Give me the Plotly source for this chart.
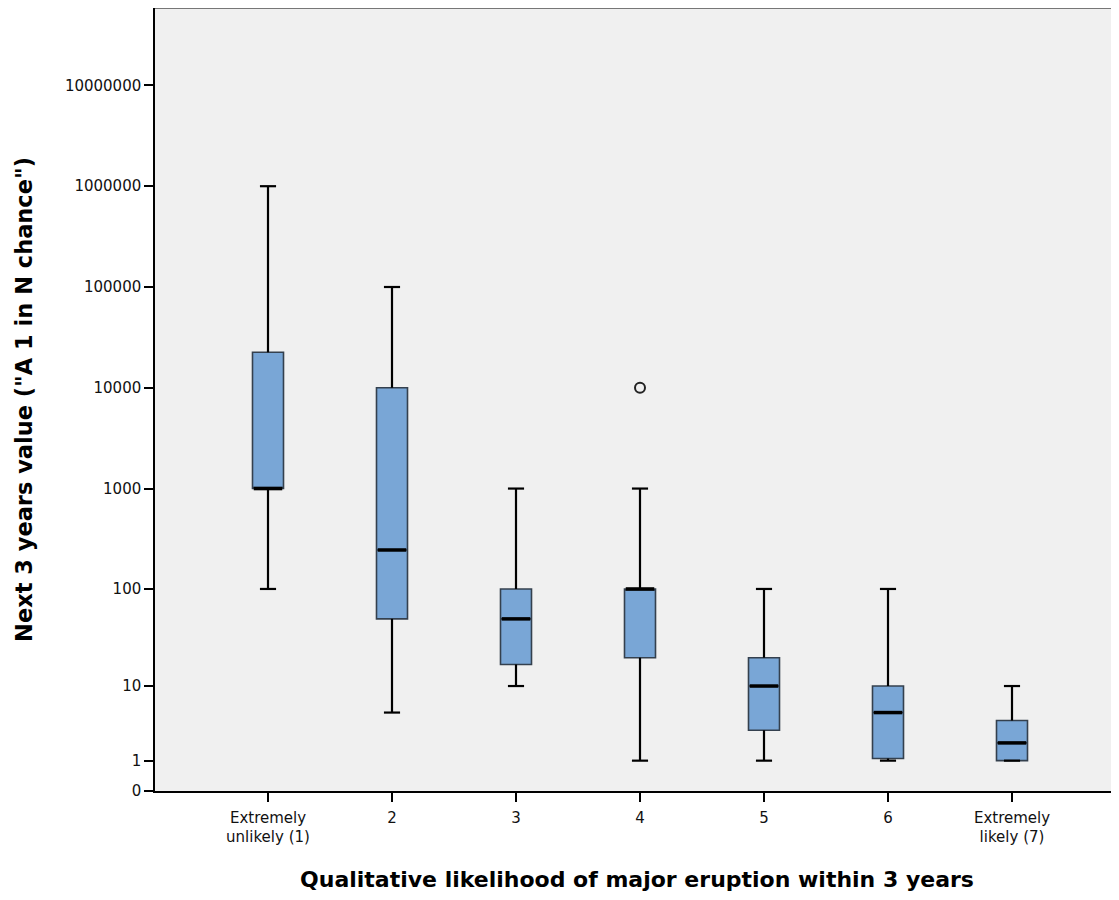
import math
import plotly.graph_objects as go

# ---------------- data ----------------
categories = ["Extremely<br>unlikely (1)", "2", "3", "4", "5", "6", "Extremely<br>likely (7)"]
lower_whisker = [100, 5, 10, 1, 1, 1, 1]
q1_values = [1000, 50, 17, 20, 3, 1.1, 1]
median_values = [1000, 245, 50, 100, 10, 5, 2]
q3_values = [22500, 10000, 100, 100, 20, 10, 4]
upper_whisker = [1000000, 100000, 1000, 1000, 100, 100, 10]
outlier_category = [3]
outlier_values = [10000]
y_tick_values = [0, 1, 10, 100, 1000, 10000, 100000, 1000000, 10000000]
y_tick_labels = ["0", "1", "10", "100", "1000", "10000", "100000", "1000000", "10000000"]

# transform: log10(value + 1)
def tr(v):
    return math.log10(v + 1)

xpos = list(range(len(categories)))
BOX_W = 0.25
CAP_W = 0.13

fig = go.Figure()

fig.add_trace(go.Box(
    x=xpos,
    q1=[tr(v) for v in q1_values],
    median=[tr(v) for v in median_values],
    q3=[tr(v) for v in q3_values],
    lowerfence=[tr(v) for v in lower_whisker],
    upperfence=[tr(v) for v in upper_whisker],
    width=BOX_W,
    whiskerwidth=0.0,
    fillcolor="#79A6D6",
    line=dict(color="#34404e", width=1.6),
    boxpoints=False,
    hoverinfo="skip",
    showlegend=False,
))

# whiskers and caps (drawn thicker, black)
wx, wy = [], []
for i in xpos:
    wx += [i, i, None]
    wy += [tr(q3_values[i]), tr(upper_whisker[i]), None]
    wx += [i - CAP_W / 2, i + CAP_W / 2, None]
    wy += [tr(upper_whisker[i]), tr(upper_whisker[i]), None]
    wx += [i, i, None]
    wy += [tr(q1_values[i]), tr(lower_whisker[i]), None]
    wx += [i - CAP_W / 2, i + CAP_W / 2, None]
    wy += [tr(lower_whisker[i]), tr(lower_whisker[i]), None]
fig.add_trace(go.Scatter(x=wx, y=wy, mode="lines",
                         line=dict(color="black", width=2.2),
                         hoverinfo="skip", showlegend=False))

# thick medians
mx, my = [], []
for i in xpos:
    mx += [i - BOX_W / 2 + 0.01, i + BOX_W / 2 - 0.01, None]
    my += [tr(median_values[i]), tr(median_values[i]), None]
fig.add_trace(go.Scatter(x=mx, y=my, mode="lines",
                         line=dict(color="black", width=3.5),
                         hoverinfo="skip", showlegend=False))

# outlier
fig.add_trace(go.Scatter(
    x=outlier_category, y=[tr(v) for v in outlier_values], mode="markers",
    marker=dict(symbol="circle-open", size=10, color="#222", line=dict(width=2)),
    hoverinfo="skip", showlegend=False))

# page has an 8px body margin; figure sized so it fits the window
W, H = 1111, 884
L, R, T, B = 147, 0, 0, 101
plot_w = W - L - R
spacing = 124.0
x0 = -(268 - 155) / spacing
x1 = x0 + plot_w / spacing
ytop = (791 - 8) / 100.8

fig.update_layout(
    width=W, height=H,
    margin=dict(l=L, r=R, t=T, b=B),
    paper_bgcolor="white",
    plot_bgcolor="#F0F0F0",
    font=dict(family="DejaVu Sans, Liberation Sans, Arial", color="#111"),
    xaxis=dict(
        range=[x0, x1],
        tickmode="array", tickvals=xpos, ticktext=categories,
        ticks="outside", ticklen=9, tickwidth=1.5, tickcolor="black",
        ticklabelstandoff=3,
        showline=True, linecolor="black", linewidth=1.5,
        showgrid=False, zeroline=False,
        tickfont=dict(size=15, family="DejaVu Sans", color="#111"),
        title=dict(text="Qualitative likelihood of major eruption within 3 years",
                   font=dict(size=22, family="DejaVu Sans", weight="bold", color="#000"),
                   standoff=27),
    ),
    yaxis=dict(
        range=[0, ytop],
        tickmode="array", tickvals=[tr(v) for v in y_tick_values], ticktext=y_tick_labels,
        ticks="outside", ticklen=9, tickwidth=1.5, tickcolor="black",
        showline=True, linecolor="black", linewidth=1.5,
        showgrid=False, zeroline=False,
        tickfont=dict(size=15, family="DejaVu Sans", color="#111"),
        title=dict(text="Next 3 years value (\"A 1 in N chance\")",
                   font=dict(size=22.5, family="DejaVu Sans", weight="bold", color="#000"),
                   standoff=26),
    ),
    shapes=[dict(type="line", xref="paper", yref="paper", x0=0, x1=1, y0=1, y1=1,
                 line=dict(color="#777", width=2))],
)

fig.write_html("out.html")
